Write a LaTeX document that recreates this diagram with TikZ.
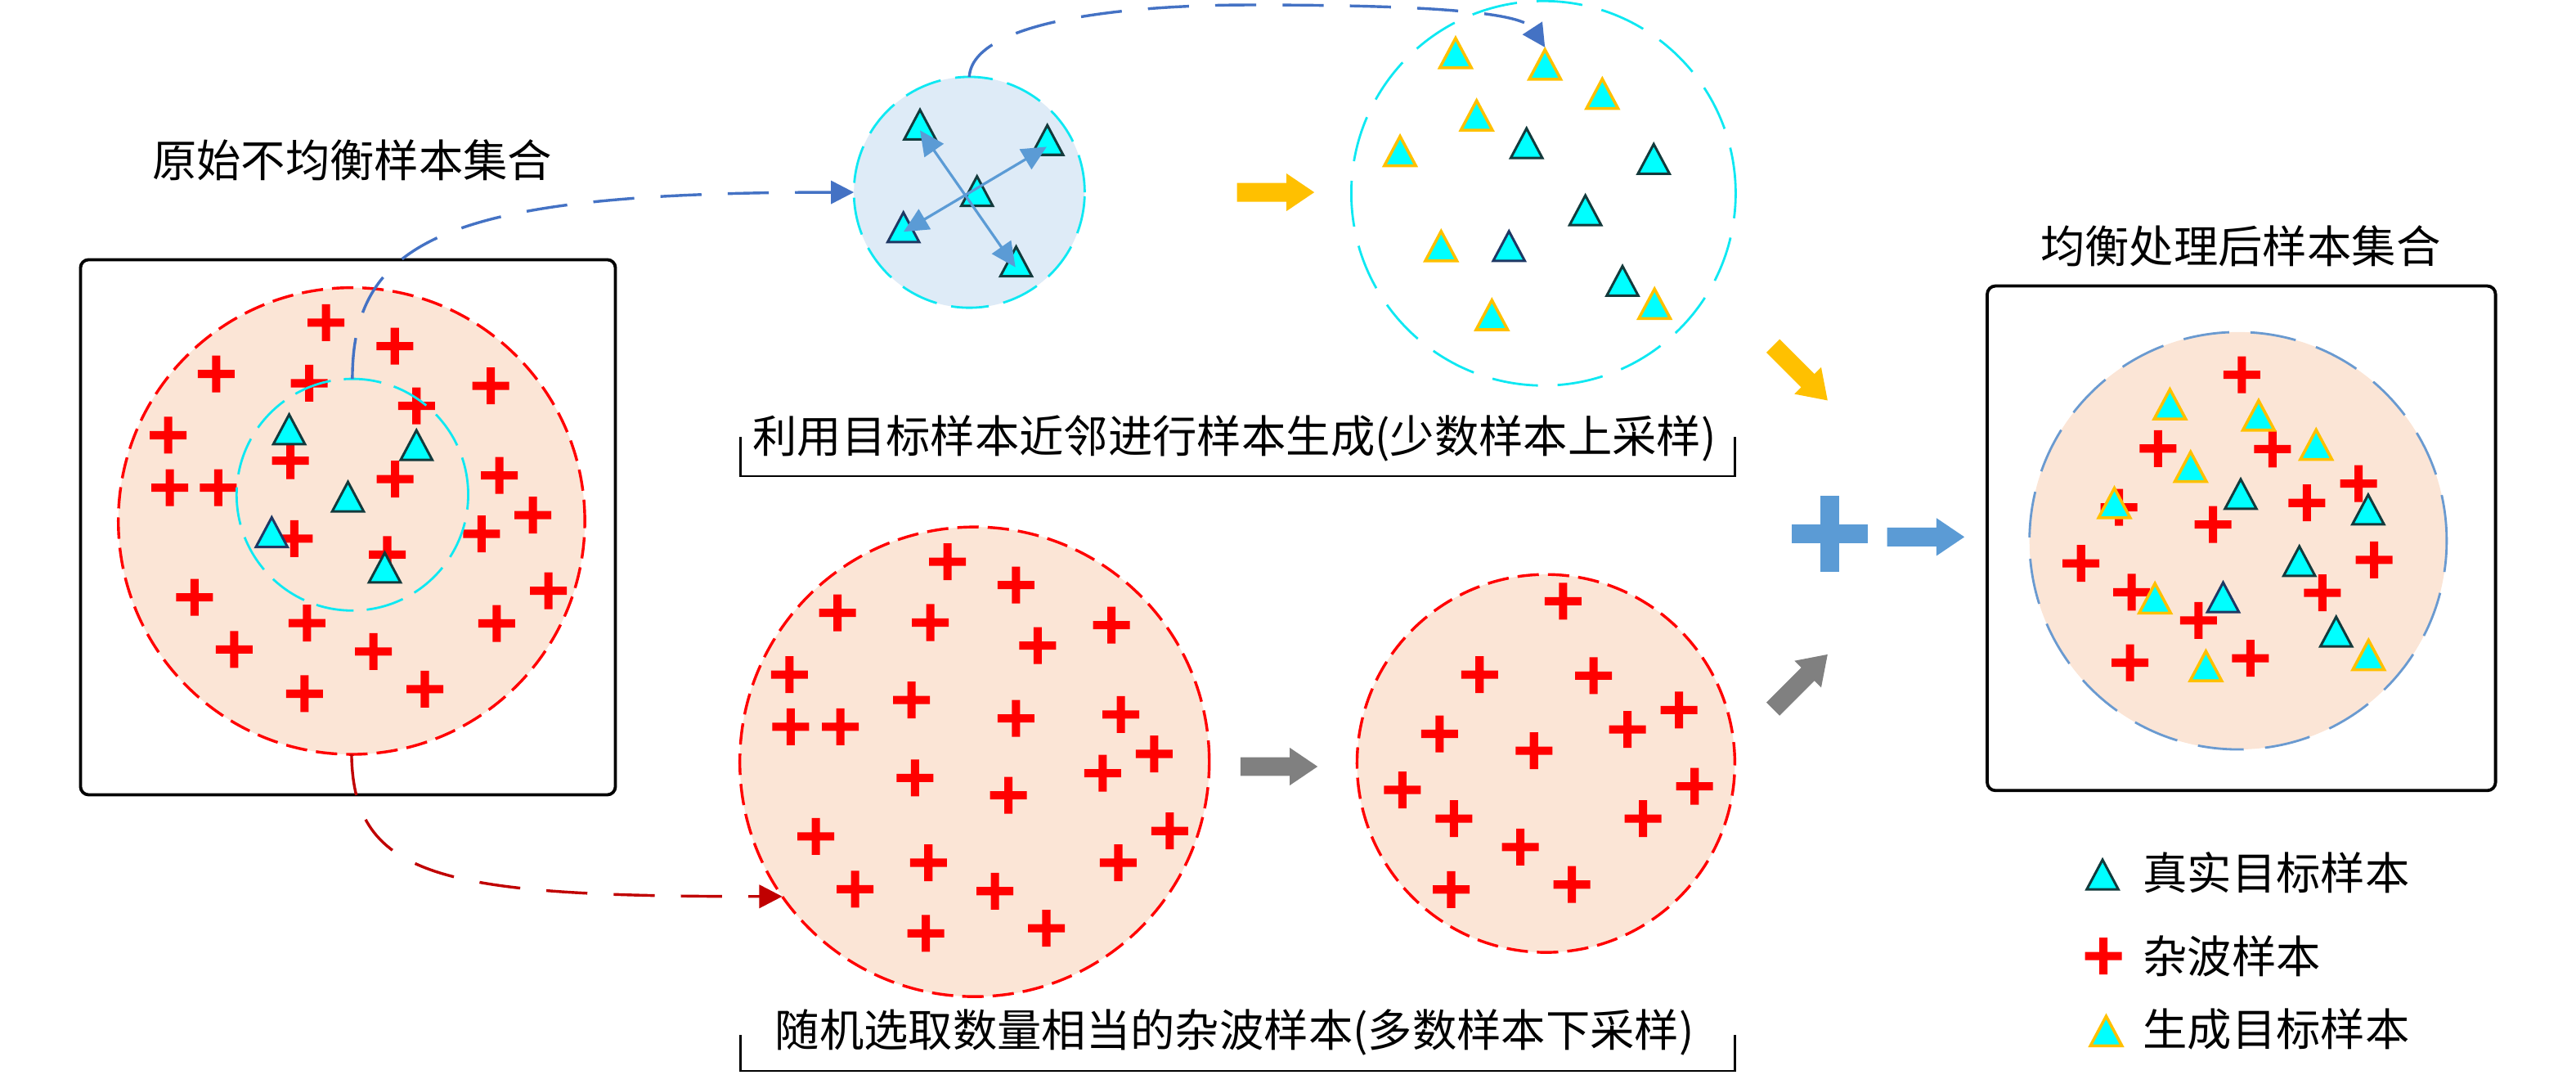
\documentclass[tikz,border=0pt]{standalone}
\usepackage{fontspec}
\setmainfont{Noto Sans CJK SC}
\usetikzlibrary{arrows.meta}
\definecolor{peach}{HTML}{FBE5D6}
\definecolor{paleblue}{HTML}{DEEBF7}
\definecolor{ringred}{HTML}{FF0000}
\definecolor{crossred}{HTML}{FF0000}
\definecolor{ringcyan}{HTML}{0FE8F2}
\definecolor{tcyan}{HTML}{00FFFF}
\definecolor{tdark}{HTML}{133A3C}
\definecolor{tnavy}{HTML}{1F3864}
\definecolor{gold}{HTML}{FFC000}
\definecolor{curveblue}{HTML}{4472C4}
\definecolor{curvered}{HTML}{C00000}
\definecolor{arrowblue}{HTML}{5B9BD5}
\definecolor{arrowgray}{HTML}{808080}
\definecolor{finalblue}{HTML}{6A9AD0}
\begin{document}
\begin{tikzpicture}[x=0.02cm,y=-0.02cm,
  redring/.style={circle, draw=ringred, line width=0.034cm, dash pattern=on 0.26cm off 0.11cm, fill=peach, inner sep=0pt, outer sep=0pt},
  cyanring/.style={circle, draw=ringcyan, line width=0.028cm, inner sep=0pt, outer sep=0pt},
  lab/.style={inner sep=0pt, font=\fontsize{15.4pt}{18pt}\selectfont},
  curveline/.style={line width=0.034cm, dash pattern=on 0.5cm off 0.32cm, -{Triangle[length=0.28cm,width=0.28cm]}},
  frame/.style={line width=0.038cm, rounded corners=0.1cm},
  bracket/.style={line width=0.028cm},
  nbrarrow/.style={draw=arrowblue, line width=0.032cm, {Triangle[length=0.3cm,width=0.28cm]}-{Triangle[length=0.3cm,width=0.28cm]}},
  cross/.pic={\fill[crossred] (-11.2,-2.5) rectangle (11.2,2.5) (-2.5,-11.2) rectangle (2.5,11.2);},
  realtri/.pic={\filldraw[fill=tcyan, draw=tdark, line width=0.03cm] (-9.6,9) -- (9.6,9) -- (0,-9) -- cycle;},
  navytri/.pic={\filldraw[fill=tcyan, draw=tnavy, line width=0.03cm] (-9.6,9) -- (9.6,9) -- (0,-9) -- cycle;},
  gentri/.pic={\filldraw[fill=tcyan, draw=gold, line width=0.035cm] (-9.6,9) -- (9.6,9) -- (0,-9) -- cycle;},
  blockarrow/.pic={\fill[#1] (0,-5.7) -- (30,-5.7) -- (30,-11.5) -- (47,0) -- (30,11.5) -- (30,5.7) -- (0,5.7) -- cycle;}
]
\useasboundingbox (0,0) rectangle (1568,653.6);

% ---------------- left panel: original set ----------------
\node[lab] (origlabel) at (214.4,97.5) {原始不均衡样本集合};
\draw[frame] (49,158) rectangle (374.6,483.6);
\node[redring, minimum size=5.68cm] (orig) at (214,317) {};
\foreach \x/\y in {198.4/196.3,240.3/210.6,131.6/227.5,188.2/233.2,298.7/234.8,253.5/247.0,102.4/264.8,176.8/280.3,304.0/289.3,240.5/291.5,103.4/296.7,132.8/296.7,324.4/313.4,293.1/324.8,179.1/327.7,235.7/337.4,333.8/359.5,118.4/363.4,186.9/379.1,302.3/379.3,142.5/395.2,227.3/396.4,185.4/422.1,258.6/419.3}
  \pic at (\x,\y) {cross};
\node[cyanring, dash pattern=on 0.46cm off 0.16cm, minimum size=2.82cm] (inner) at (214.5,301) {};
\foreach \x/\y in {176.0/261.2,253.5/270.8,211.8/302.2,234.2/345.3}
  \pic at (\x,\y) {realtri};
\pic at (165.4,323.8) {navytri};

% ---------------- top: neighbourhood ----------------
\node[cyanring, fill=paleblue, dash pattern=on 0.46cm off 0.18cm, minimum size=2.81cm] (nbr) at (590,117) {};
\pic at (560,75.8) {realtri};
\pic at (637.5,85.2) {realtri};
\pic at (594.7,116.3) {realtri};
\pic at (549.9,138.3) {navytri};
\pic at (618.5,159.1) {realtri};
\coordinate (pa1) at (560,79.3);
\coordinate (pa2) at (618.1,162.6);
\coordinate (pb1) at (637.1,89.3);
\coordinate (pb2) at (550,141);
\draw[nbrarrow] (pa1) -- (pa2);
\draw[nbrarrow] (pb1) -- (pb2);

\pic at (753,117) {blockarrow=gold};

% ---------------- top right: generated ----------------
\node[cyanring, dash pattern=on 0.56cm off 0.24cm, minimum size=4.68cm] (gen) at (939.5,117.6) {};
\foreach \x/\y in {886.0/32.2,940.4/39.2,975.3/57.0,898.8/70.2,852.2/91.9,877.2/149.7,1007.1/184.8,908.1/191.6}
  \pic at (\x,\y) {gentri};
\foreach \x/\y in {929.2/87.1,1006.6/96.7,965/127.9,987.6/170.9}
  \pic at (\x,\y) {realtri};
\pic at (918.5,149.7) {navytri};
\coordinate (gtip) at (940.4,28.8);
\coordinate (bend) at (760,3);

\node[lab] (uplabel) at (751.4,267) {利用目标样本近邻进行样本生成(少数样本上采样)};
\draw[bracket] (450.6,266) -- (450.6,289.7) -- (1056,289.7) -- (1056,266);

% ---------------- bottom: down-sampling ----------------
\node[redring, minimum size=5.716cm] (down) at (593.2,463.5) {};
\foreach \x/\y in {576.7/341.8,618.4/356.0,509.8/372.9,566.3/378.8,676.5/380.4,631.6/392.8,480.5/410.5,554.8/425.9,618.4/437.1,682.3/434.7,481.3/442.2,511.5/442.2,702.5/458.7,671.2/470.5,556.9/473.3,613.8/483.9,712.0/505.6,496.6/508.9,565.1/524.9,680.7/524.9,520.5/541.0,605.6/542.2,563.5/567.9,636.9/564.8}
  \pic at (\x,\y) {cross};

\pic at (755,466.4) {blockarrow=arrowgray};

\node[redring, minimum size=4.6cm] (sel) at (941,464.5) {};
\foreach \x/\y in {951.4/365.8,900.6/410.5,970.0/411.1,1022.0/432.0,876.3/446.5,990.6/443.8,933.7/456.8,853.6/480.6,1031.5/478.4,885.0/498.1,1000.1/498.1,925.4/515.4,883.3/541.2,956.8/538.2}
  \pic at (\x,\y) {cross};

\node[lab] (downlabel) at (751.5,628) {随机选取数量相当的杂波样本(多数样本下采样)};
\draw[bracket] (450.6,629.7) -- (450.6,651.6) -- (1056,651.6) -- (1056,629.7);

% ---------------- combine ----------------
\pic[rotate=-45] at (1079.2,210.4) {blockarrow=gold};
\pic[rotate=45] at (1079.2,431.4) {blockarrow=arrowgray};
\fill[arrowblue] (1090.6,319.1) rectangle (1137,330.7);
\fill[arrowblue] (1108,301.6) rectangle (1119.6,348.1);
\pic at (1148.7,326.7) {blockarrow=arrowblue};

% ---------------- right panel: balanced set ----------------
\node[lab] (finallabel) at (1363.8,149.7) {均衡处理后样本集合};
\draw[frame] (1209.6,174) rectangle (1519,481);
\node[circle, fill=peach, draw=finalblue, line width=0.028cm, dash pattern=on 0.56cm off 0.26cm, inner sep=0pt, outer sep=0pt, minimum size=5.08cm] (final) at (1362.3,329) {};
\foreach \x/\y in {1364.6/228.0,1313.6/272.9,1383.2/273.2,1435.6/294.2,1289.8/308.7,1404.1/306.0,1347.0/319.1,1266.7/342.8,1445.1/340.7,1297.5/360.3,1413.6/360.7,1338.2/377.5,1296.5/403.2,1369.8/400.5}
  \pic at (\x,\y) {cross};
\foreach \x/\y in {1320.8/245.9,1374.8/252.7,1409.8/270.5,1333.4/284.0,1287.0/306.0,1311.7/364.0,1342.7/405.2,1441.7/398.5}
  \pic at (\x,\y) {gentri};
\foreach \x/\y in {1363.9/300.6,1441.5/310.0,1399.6/341.4,1422.0/384.3}
  \pic at (\x,\y) {realtri};
\pic at (1353.2,363.4) {navytri};

% ---------------- legend ----------------
\pic at (1279.8,532.1) {realtri};
\node[lab, anchor=west] (leg1) at (1304,531) {真实目标样本};
\pic at (1280.3,581.7) {cross};
\node[lab, anchor=west] (leg2) at (1304,581.6) {杂波样本};
\pic at (1282,627.3) {gentri};
\node[lab, anchor=west] (leg3) at (1304,626.4) {生成目标样本};

% ---------------- connectors ----------------
\draw[curveline, curveblue] (inner.north) .. controls +(0,-86) and +(-245,0) .. (nbr.west);
\draw[curveline, curveblue] (nbr.north) .. controls +(2,-35) and +(-70,0) .. (bend) .. controls +(90,0) and +(-15,-23) .. (gtip);
\draw[curveline, curvered] (orig.south) .. controls +(1,76) and +(-206,0) .. (down.215.3);
\end{tikzpicture}
\end{document}
